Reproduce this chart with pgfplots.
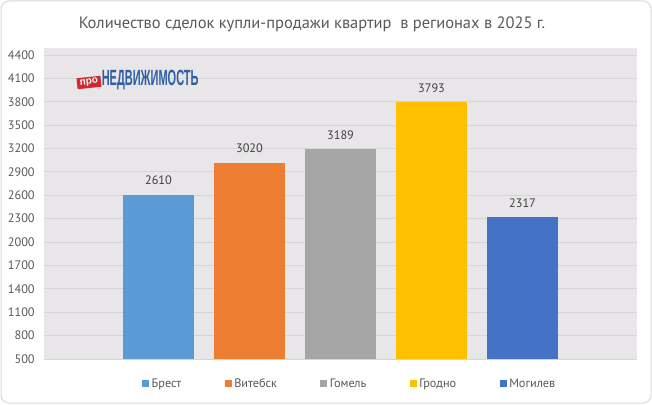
\documentclass[border=0pt]{standalone}
\usepackage{pgfplots}
\pgfplotsset{compat=1.18}
\usepackage{fontspec}
\setmainfont{PT Sans}
\newfontfamily\logofont{Liberation Sans}
\definecolor{cBrest}{HTML}{5B9BD5}
\definecolor{cVitebsk}{HTML}{ED7D31}
\definecolor{cGomel}{HTML}{A5A5A5}
\definecolor{cGrodno}{HTML}{FFC000}
\definecolor{cMogilev}{HTML}{4472C4}
\definecolor{bgc}{HTML}{E8E6E8}
\definecolor{gridc}{HTML}{D6D5D6}
\definecolor{tickc}{HTML}{595959}
\definecolor{labc}{HTML}{404040}
\definecolor{borderc}{HTML}{D9D9D9}
\definecolor{logoblue}{HTML}{2F5FA5}
\definecolor{logored}{HTML}{D02A2E}
\pgfplotsset{sq/.style={legend image code/.code={\fill[##1] (0pt,-2.6pt) rectangle (5.2pt,2.6pt);}}}
\begin{document}
\begin{tikzpicture}
\begin{scope}[x=0.75pt,y=0.75pt]
\path[use as bounding box] (0,0) rectangle (652,404);
\draw[draw=borderc, fill=white, rounded corners=6pt, line width=0.75pt] (1,1) rectangle (651,403);
\node[font=\fontsize{12.35}{14}\selectfont, text=tickc, anchor=base, inner sep=0pt] at (312,375) {Количество сделок купли-продажи квартир\ \ в регионах в 2025 г.};
\end{scope}
\begin{axis}[
  at={(33pt,33.75pt)}, anchor=south west, scale only axis,
  width=444.75pt, height=233.25pt,
  xmin=-1.258, xmax=5.258, ymin=500, ymax=4490,
  ytick={500,800,...,4400}, xtick=\empty,
  axis background/.style={fill=bgc},
  axis line style={draw=none},
  ymajorgrids, grid style={draw=gridc, line width=0.75pt},
  major tick length=0pt,
  yticklabel style={font=\fontsize{9.2}{10}\selectfont, text=tickc, xshift=-3.5pt},
  /pgf/number format/assume math mode=true,
  /pgf/number format/1000 sep={},
  ybar, bar width=53.25pt, bar shift=0pt,
  nodes near coords,
  nodes near coords style={font=\fontsize{9.2}{10}\selectfont, text=labc, yshift=4pt, /pgf/number format/assume math mode=true, /pgf/number format/1000 sep={}},
  legend style={at={(0.516,-0.08)}, anchor=center, draw=none, fill=none,
    font=\fontsize{9.2}{10}\selectfont, text=tickc},
  legend columns=-1,
  /tikz/every even column/.append style={column sep=30.5pt},
]
\addplot[fill=cBrest, draw=none, sq] coordinates {(0,2610)};
\addlegendentry{Брест}
\addplot[fill=cVitebsk, draw=none, sq] coordinates {(1,3020)};
\addlegendentry{Витебск}
\addplot[fill=cGomel, draw=none, sq] coordinates {(2,3189)};
\addlegendentry{Гомель}
\addplot[fill=cGrodno, draw=none, sq] coordinates {(3,3793)};
\addlegendentry{Гродно}
\addplot[fill=cMogilev, draw=none, sq] coordinates {(4,2317)};
\addlegendentry{Могилев}
\end{axis}
\begin{scope}[x=0.75pt,y=0.75pt]
\fill[logored, rotate around={6:(89,321.5)}] (77,316) rectangle (101,327);
\node[font=\logofont\bfseries\fontsize{7.5}{7.5}\selectfont, text=white, inner sep=0pt, rotate=6] at (89,321.5) {про};
\node[anchor=west, inner sep=0pt, text=logoblue] at (101.5,323.5) {\scalebox{0.5}[1]{\logofont\bfseries\fontsize{16.5}{17}\selectfont НЕДВИЖИМОСТЬ}};
\end{scope}
\end{tikzpicture}
\end{document}
